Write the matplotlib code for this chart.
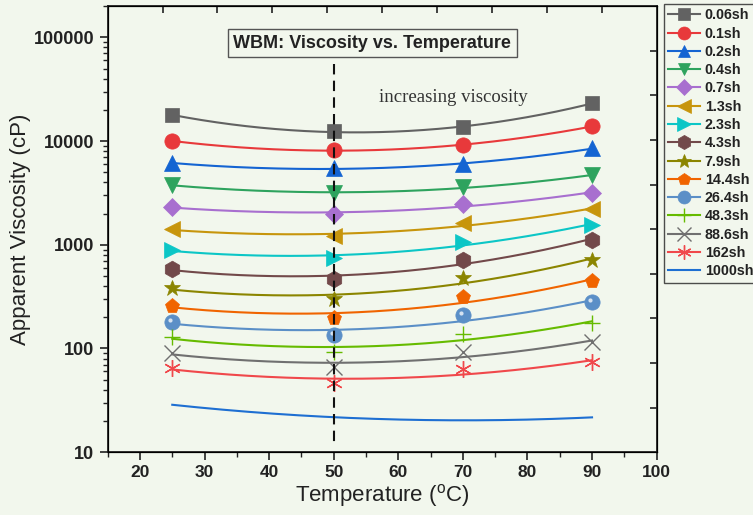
import matplotlib
matplotlib.use("Agg")
import matplotlib.pyplot as plt
import matplotlib.ticker as ticker
import matplotlib.transforms as mtransforms
import numpy as np

plt.rcParams['font.family'] = ['Liberation Sans', 'DejaVu Sans']
plt.rcParams['mathtext.fontset'] = 'custom'
plt.rcParams['mathtext.rm'] = 'Liberation Sans'

# temperatures (C)
temps = [25, 50, 70, 90]

# apparent viscosity (cP) per shear rate
v_006 = [17800, 12400, 13600, 23200]
v_01 = [10000, 8170, 9130, 13900]
v_02 = [6120, 5480, 5980, 8500]
v_04 = [3760, 3160, 3590, 4680]
v_07 = [2310, 1970, 2450, 3160]
v_13 = [1410, 1210, 1610, 2200]
v_23 = [887, 743, 1060, 1550]
v_43 = [582, 466, 710, 1110]
v_79 = [380, 298, 476, 710]
v_144 = [257, 196, 312, 446]
v_264 = [179, 134, 210, 279]
v_483 = [128, 92, 137, 175]
v_886 = [90, 66, 92, 115]
v_162 = [64.6, 46, 63, 74]
v_1000 = [29, 20.8, 21.3, 21.3]

labels = ['0.06sh', '0.1sh', '0.2sh', '0.4sh', '0.7sh', '1.3sh', '2.3sh', '4.3sh',
          '7.9sh', '14.4sh', '26.4sh', '48.3sh', '88.6sh', '162sh', '1000sh']
values = [v_006, v_01, v_02, v_04, v_07, v_13, v_23, v_43,
          v_79, v_144, v_264, v_483, v_886, v_162, v_1000]
colors = ['#626262', '#e8393b', '#1464d2', '#2ea35e', '#a86fcf', '#c7950c', '#0cc6c6',
          '#72494a', '#8b8500', '#f06400', '#5b8fc7', '#66bb00', '#707070', '#f0484b', '#1e6fd2']
markers = ['s', 'o', '^', 'v', 'D', '<', '>', 'h', '*', 'p', 'o', '+', 'x', (6, 2, 0), None]
msizes = [10, 11, 11, 11, 9, 12, 12, 12, 12, 11, 11, 12, 12, 12, 0]

bg = '#f2f7ed'
fig = plt.figure(figsize=(7.53, 5.15), dpi=100, facecolor=bg)
ax = fig.add_axes([0.143, 0.122, 0.729, 0.866])
ax.set_facecolor(bg)

xs = np.linspace(25, 90, 200)
handles = []
for lab, v, c, m, ms in zip(labels, values, colors, markers, msizes):
    # smooth quadratic fit in log space, like the original
    p = np.polyfit(temps, np.log10(v), 2)
    ax.plot(xs, 10 ** np.polyval(p, xs), color=c, lw=1.5, zorder=2)
    thin = m in ('+', 'x') or isinstance(m, tuple)
    mew = 1.0 if thin else 0.5
    if m is not None:
        ax.plot(temps, v, linestyle='none', marker=m, markersize=ms, color=c,
                markeredgewidth=mew, zorder=3)
        if lab == '26.4sh':
            # glossy highlight on the sphere markers, up and to the left
            shift = mtransforms.ScaledTranslation(-2 / 100, 2 / 100, fig.dpi_scale_trans)
            ax.plot(temps, v, linestyle='none', marker='o', markersize=3, color='white',
                    alpha=0.75, markeredgewidth=0, zorder=3.5, transform=ax.transData + shift)
    h, = ax.plot([], [], color=c, lw=1.5, marker=m, markersize=ms, markeredgewidth=mew)
    handles.append(h)

ax.plot([50, 50], [55000, 12.2], color='#111111', lw=1.5, linestyle=(0, (5, 3)), zorder=4)

ax.set_yscale('log')
ax.set_xlim(15, 100)
ax.set_ylim(10, 200000)
ax.xaxis.set_minor_locator(ticker.MultipleLocator(5))
ax.yaxis.set_major_locator(ticker.LogLocator(base=10))
ax.yaxis.set_minor_locator(ticker.LogLocator(base=10, subs=np.arange(2, 10)))
ax.yaxis.set_minor_formatter(ticker.NullFormatter())
ax.yaxis.set_major_formatter(ticker.FuncFormatter(lambda v, p: f"{int(round(v))}"))
ax.set_xticks([20, 30, 40, 50, 60, 70, 80, 90, 100])

ax.tick_params(which='major', direction='out', length=6, width=1.2, colors='#222222')
ax.tick_params(which='minor', direction='out', length=3.5, width=1.0, colors='#222222')
ax.tick_params(axis='y', labelsize=13)
ax.tick_params(axis='x', labelsize=12.5)
for t in ax.get_xticklabels() + ax.get_yticklabels():
    t.set_fontweight('bold')
for s in ax.spines.values():
    s.set_linewidth(1.3)
    s.set_color('#222222')

ax.set_xlabel(r'Temperature ($^{\rm o}$C)', fontsize=16, color='#222222', labelpad=1)
ax.set_ylabel('Apparent Viscosity (cP)', fontsize=16, color='#222222', labelpad=2)

# unlabeled inward ticks on top and right
axr = ax.twinx()
axr.set_ylim(0, 10)
axr.set_yticks(range(1, 10))
axr.tick_params(direction='in', length=5, width=1.2, labelright=False, colors='#222222')
axt = ax.twiny()
axt.set_xlim(0, 10)
axt.set_xticks(range(1, 10))
axt.tick_params(direction='in', length=5, width=1.2, labeltop=False, colors='#222222')

ax.text(0.482, 0.917, 'WBM: Viscosity vs. Temperature', transform=ax.transAxes,
        ha='center', va='center', fontsize=13, fontweight='bold', color='#222222', zorder=5,
        bbox=dict(boxstyle='square,pad=0.3', facecolor=bg, edgecolor='#555555', lw=1.0))
ax.text(0.63, 0.796, 'increasing viscosity', transform=ax.transAxes, ha='center', va='center',
        fontsize=13.5, family='Liberation Serif', color='#333333')

leg = fig.legend(handles, labels, loc='upper left', bbox_to_anchor=(664 / 753, 1 - 4 / 515),
                 bbox_transform=fig.transFigure, frameon=True, fancybox=False,
                 prop={'weight': 'bold', 'size': 10.3}, handlelength=2.2, handletextpad=0.35,
                 labelspacing=0.3, borderpad=0.3, borderaxespad=0, markerscale=0.85)
leg.get_frame().set_facecolor(bg)
leg.get_frame().set_edgecolor('#222222')
leg.get_frame().set_linewidth(1.0)
for t in leg.get_texts():
    t.set_color('#222222')

fig.savefig('out.png', dpi=100, facecolor=bg)
